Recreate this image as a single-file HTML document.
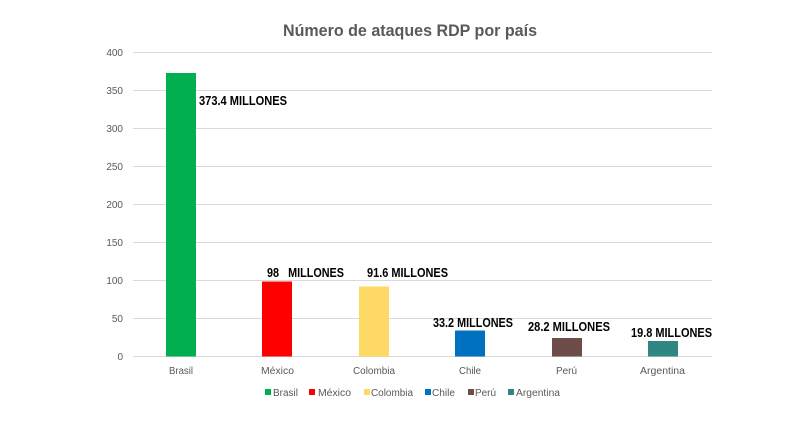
<!DOCTYPE html>
<html><head><meta charset="utf-8"><style>
html,body{margin:0;padding:0;background:#fff;}
svg{display:block;font-family:"Liberation Sans",sans-serif;}
</style></head><body>
<svg width="800" height="445" viewBox="0 0 800 445" xmlns="http://www.w3.org/2000/svg">
<rect width="800" height="445" fill="#fff"/>
<text x="410" y="36" text-anchor="middle" font-size="17" font-weight="bold" fill="#595959" textLength="254" lengthAdjust="spacingAndGlyphs">Número de ataques RDP por país</text>
<g stroke="#d9d9d9" stroke-width="1">
<line x1="133" y1="52.5" x2="712" y2="52.5"/>
<line x1="133" y1="90.5" x2="712" y2="90.5"/>
<line x1="133" y1="128.5" x2="712" y2="128.5"/>
<line x1="133" y1="166.5" x2="712" y2="166.5"/>
<line x1="133" y1="204.5" x2="712" y2="204.5"/>
<line x1="133" y1="242.5" x2="712" y2="242.5"/>
<line x1="133" y1="280.5" x2="712" y2="280.5"/>
<line x1="133" y1="318.5" x2="712" y2="318.5"/>
<line x1="133" y1="356.5" x2="712" y2="356.5"/>
</g>
<g font-size="10" fill="#595959" text-anchor="end">
<text x="123" y="56">400</text>
<text x="123" y="94">350</text>
<text x="123" y="132">300</text>
<text x="123" y="170">250</text>
<text x="123" y="208">200</text>
<text x="123" y="246">150</text>
<text x="123" y="284">100</text>
<text x="123" y="322">50</text>
<text x="123" y="360">0</text>
</g>
<rect x="166" y="73" width="30" height="283.5" fill="#00B050"/>
<rect x="262" y="281.5" width="30" height="75" fill="#FF0000"/>
<rect x="359" y="286.5" width="30" height="70" fill="#FFD966"/>
<rect x="455" y="330.5" width="30" height="26" fill="#0070C0"/>
<rect x="552" y="338" width="30" height="18.5" fill="#6D4C4A"/>
<rect x="648" y="341" width="30" height="15.5" fill="#2F8682"/>
<g font-size="13" font-weight="bold" fill="#000">
<text x="199" y="105" textLength="88" lengthAdjust="spacingAndGlyphs">373.4 MILLONES</text>
<text x="267" y="277" textLength="77" lengthAdjust="spacingAndGlyphs" xml:space="preserve">98   MILLONES</text>
<text x="367" y="277" textLength="81" lengthAdjust="spacingAndGlyphs">91.6 MILLONES</text>
<text x="433" y="327" textLength="80" lengthAdjust="spacingAndGlyphs">33.2 MILLONES</text>
<text x="528" y="331" textLength="82" lengthAdjust="spacingAndGlyphs">28.2 MILLONES</text>
<text x="631" y="337" textLength="81" lengthAdjust="spacingAndGlyphs">19.8 MILLONES</text>
</g>
<g font-size="10" fill="#595959">
<text x="169" y="374" textLength="24" lengthAdjust="spacingAndGlyphs">Brasil</text>
<text x="261" y="374" textLength="33" lengthAdjust="spacingAndGlyphs">México</text>
<text x="353" y="374" textLength="42" lengthAdjust="spacingAndGlyphs">Colombia</text>
<text x="459" y="374" textLength="22" lengthAdjust="spacingAndGlyphs">Chile</text>
<text x="556" y="374" textLength="21" lengthAdjust="spacingAndGlyphs">Perú</text>
<text x="640" y="374" textLength="45" lengthAdjust="spacingAndGlyphs">Argentina</text>
</g>
<g font-size="10" fill="#595959">
<rect x="265" y="389" width="6" height="6" fill="#00B050"/>
<text x="273" y="396" textLength="25" lengthAdjust="spacingAndGlyphs">Brasil</text>
<rect x="309" y="389" width="6" height="6" fill="#FF0000"/>
<text x="318" y="396" textLength="33" lengthAdjust="spacingAndGlyphs">México</text>
<rect x="364" y="389" width="6" height="6" fill="#FFD966"/>
<text x="371" y="396" textLength="42" lengthAdjust="spacingAndGlyphs">Colombia</text>
<rect x="425" y="389" width="6" height="6" fill="#0070C0"/>
<text x="432" y="396" textLength="23" lengthAdjust="spacingAndGlyphs">Chile</text>
<rect x="468" y="389" width="6" height="6" fill="#6D4C4A"/>
<text x="475" y="396" textLength="21" lengthAdjust="spacingAndGlyphs">Perú</text>
<rect x="508" y="389" width="6" height="6" fill="#2F8682"/>
<text x="516" y="396" textLength="44" lengthAdjust="spacingAndGlyphs">Argentina</text>
</g>
</svg>
</body></html>
